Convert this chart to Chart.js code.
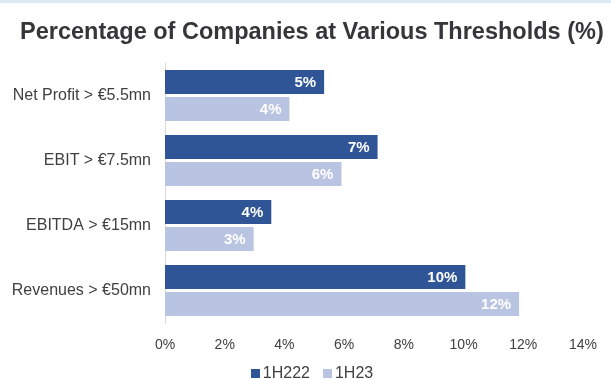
<!DOCTYPE html>
<html>
<head>
<meta charset="utf-8">
<script src="https://cdn.jsdelivr.net/npm/chart.js@4.4.1/dist/chart.umd.min.js"></script>
<style>
  html, body { margin: 0; padding: 0; background: #ffffff; }
  #wrap { position: relative; width: 611px; height: 379px; }
  canvas { display: block; }
</style>
</head>
<body>
<div id="wrap"><canvas id="chart" width="611" height="379"></canvas></div>
<script>
// Thresholds and share of companies above each one (%)
const categories = ['Net Profit > €5.5mn', 'EBIT > €7.5mn', 'EBITDA > €15mn', 'Revenues > €50mn'];
const series1H222 = [5.33, 7.12, 3.56, 10.06];
const series1H23 = [4.17, 5.91, 2.97, 11.86];
const seriesNames = ['1H222', '1H23'];
const xTicks = [0, 2, 4, 6, 8, 10, 12, 14];
const titleText = 'Percentage of Companies at Various Thresholds (%)';

const FONT = '"Liberation Sans", Arial, Helvetica, sans-serif';
const DARK = '#2f5597';
const LIGHT = '#b9c3e2';

// Header band and title
const headerPlugin = {
  id: 'header',
  beforeDraw(chart) {
    const ctx = chart.ctx;
    ctx.save();
    ctx.fillStyle = '#dde8f3';
    ctx.fillRect(0, 0, chart.width, 3);
    ctx.fillStyle = '#363539';
    ctx.font = 'bold 23.5px ' + FONT;
    ctx.textAlign = 'left';
    ctx.textBaseline = 'alphabetic';
    ctx.fillText(titleText, 20, 39);
    ctx.restore();
  }
};

// Value labels inside the bar ends
const valueLabels = {
  id: 'valueLabels',
  afterDatasetsDraw(chart) {
    const ctx = chart.ctx;
    ctx.save();
    ctx.fillStyle = '#ffffff';
    ctx.font = 'bold 15px ' + FONT;
    ctx.textAlign = 'right';
    ctx.textBaseline = 'middle';
    chart.data.datasets.forEach((ds, i) => {
      chart.getDatasetMeta(i).data.forEach((bar, j) => {
        ctx.fillText(Math.round(ds.data[j]) + '%', bar.x - 8, bar.y + 1);
      });
    });
    ctx.restore();
  }
};

// Legend centred under the axis
const bottomLegend = {
  id: 'bottomLegend',
  afterDraw(chart) {
    const ctx = chart.ctx;
    ctx.save();
    ctx.font = '16px ' + FONT;
    ctx.textBaseline = 'alphabetic';
    const box = 9, gapBox = 3, gapItem = 13;
    const items = chart.data.datasets.map(ds => ({
      label: ds.label, color: ds.backgroundColor, w: ctx.measureText(ds.label).width
    }));
    let total = 0;
    items.forEach((it, k) => { total += box + gapBox + it.w + (k ? gapItem : 0); });
    let x = 312 - total / 2;
    const base = 378;
    items.forEach((it, k) => {
      if (k) x += gapItem;
      ctx.fillStyle = it.color;
      ctx.fillRect(Math.round(x), base - 9, box, box);
      x += box + gapBox;
      ctx.fillStyle = '#404040';
      ctx.fillText(it.label, x, base);
      x += it.w;
    });
    ctx.restore();
  }
};

new Chart(document.getElementById('chart'), {
  type: 'bar',
  data: {
    labels: categories,
    datasets: [
      { label: seriesNames[0], data: series1H222, backgroundColor: DARK },
      { label: seriesNames[1], data: series1H23, backgroundColor: LIGHT }
    ]
  },
  options: {
    indexAxis: 'y',
    responsive: false,
    animation: false,
    events: [],
    layout: { padding: { left: 0, right: 24, top: 63, bottom: 20 } },
    datasets: { bar: { categoryPercentage: 0.83, barPercentage: 0.889 } },
    plugins: { legend: { display: false }, title: { display: false }, tooltip: { enabled: false } },
    scales: {
      x: {
        min: 0, max: 14,
        afterBuildTicks(scale) { scale.ticks = xTicks.map(v => ({ value: v })); },
        afterFit(scale) { scale.height = 36; },
        grid: { display: false, drawTicks: false },
        border: { display: false },
        ticks: {
          padding: 14,
          color: '#404040',
          font: { family: FONT, size: 14 },
          callback: v => v + '%'
        }
      },
      y: {
        afterFit(scale) { scale.width = 165; },
        grid: { display: false, drawTicks: false },
        border: { display: true, color: '#d9d9d9', width: 1 },
        ticks: {
          padding: 14,
          color: '#404040',
          font: { family: FONT, size: 16 }
        }
      }
    }
  },
  plugins: [headerPlugin, valueLabels, bottomLegend]
});
</script>
</body>
</html>
